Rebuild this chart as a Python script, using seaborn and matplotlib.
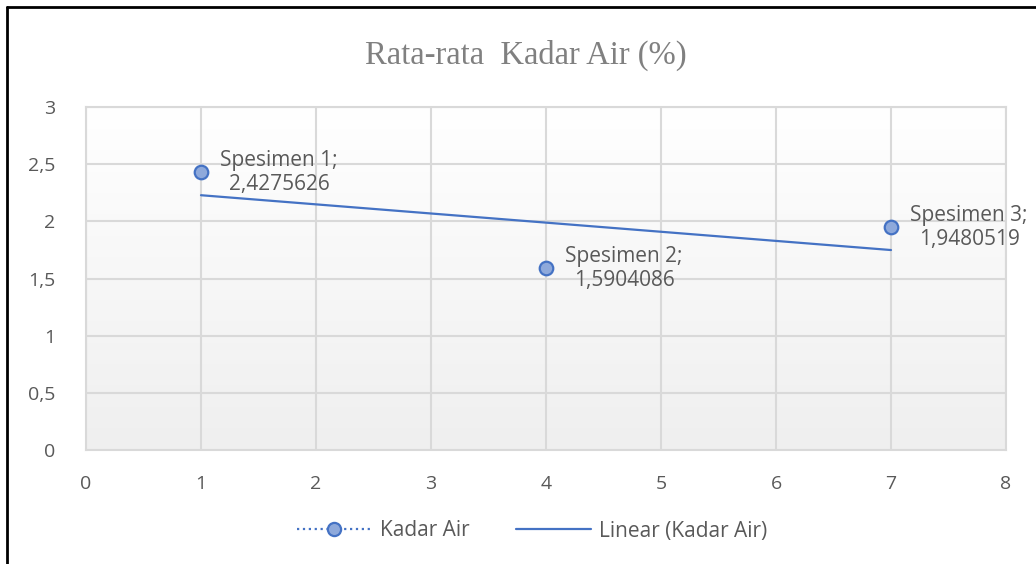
import numpy as np
import pandas as pd
import matplotlib
matplotlib.use("Agg")
import matplotlib.pyplot as plt
import seaborn as sns
from matplotlib.lines import Line2D

# ============================================================
# Data
# ============================================================

specimens = ["Spesimen 1", "Spesimen 2", "Spesimen 3"]
x_pos = [1, 4, 7]
kadar_air = [2.4275626, 1.5904086, 1.9480519]

y_ticks = [0, 0.5, 1, 1.5, 2, 2.5, 3]
y_tick_labels = ["0", "0,5", "1", "1,5", "2", "2,5", "3"]
x_ticks = [0, 1, 2, 3, 4, 5, 6, 7, 8]

df = pd.DataFrame({"x": x_pos, "kadar_air": kadar_air, "label": specimens})

# linear trendline, Excel style
slope, intercept = np.polyfit(df["x"], df["kadar_air"], 1)
trend = pd.DataFrame({"x": [df["x"].min(), df["x"].max()]})
trend["y"] = slope * trend["x"] + intercept

# ============================================================
# Style
# ============================================================

BLUE = "#4472C4"
FILL = "#8EA9DB"
TEXT = "#595959"
GRID = "#D9D9D9"

sns.set_theme(style="white")
plt.rcParams["font.family"] = ["Open Sans", "DejaVu Sans"]

fig = plt.figure(figsize=(10.36, 5.64), dpi=100)
W, H = 1036, 564
ax = fig.add_axes([86 / W, 1 - 450 / H, 920 / W, 343 / H])

# gradient plot area (white -> light gray)
grad = np.linspace(1.0, 0.0, 256).reshape(-1, 1)
ax.imshow(
    grad,
    extent=[0, 1, 0, 1],
    transform=ax.transAxes,
    aspect="auto",
    cmap=matplotlib.colors.LinearSegmentedColormap.from_list("g", ["#EFEFEF", "#FFFFFF"]),
    zorder=0,
)

sns.lineplot(
    data=trend,
    x="x",
    y="y",
    color=BLUE,
    linewidth=1.6,
    ax=ax,
    zorder=3,
)

sns.scatterplot(
    data=df,
    x="x",
    y="kadar_air",
    s=95,
    color=FILL,
    edgecolor=BLUE,
    linewidth=1.6,
    ax=ax,
    zorder=4,
)

for _, row in df.iterrows():
    ax.annotate(
        f"{row['label']};\n{row['kadar_air']:.7f}".replace(".", ","),
        xy=(row["x"], row["kadar_air"]),
        xytext=(14, 0),
        textcoords="offset points",
        ha="left",
        va="center",
        multialignment="center",
        fontsize=15,
        color=TEXT,
        linespacing=1.2,
        zorder=5,
    )

ax.set_xlim(0, 8)
ax.set_ylim(0, 3)
ax.set_xticks(x_ticks)
ax.set_yticks(y_ticks)
ax.set_yticklabels(y_tick_labels)
ax.set_xlabel("")
ax.set_ylabel("")
ax.tick_params(axis="both", length=0, labelsize=14, labelcolor=TEXT)
ax.tick_params(axis="x", pad=18)
ax.tick_params(axis="y", pad=22)
ax.grid(True, color=GRID, linewidth=1.5, zorder=1)
ax.set_axisbelow(True)
for sp in ax.spines.values():
    sp.set_color(GRID)
    sp.set_linewidth(1.5)

fig.text(
    526 / W,
    1 - 55 / H,
    "Rata-rata  Kadar Air (%)",
    ha="center",
    va="center",
    fontsize=23.5,
    color="#808080",
    family=["Liberation Serif", "DejaVu Serif"],
)

handles = [
    Line2D([0], [0], color=BLUE, linestyle=":", linewidth=1.6,
           marker="o", markersize=9.5, markerfacecolor=FILL,
           markeredgecolor=BLUE, markeredgewidth=1.6),
    Line2D([0], [0], color=BLUE, linewidth=1.6),
]
fig.legend(
    handles,
    ["Kadar Air", "Linear (Kadar Air)"],
    loc="center",
    bbox_to_anchor=(532 / W, 1 - 531 / H),
    ncol=2,
    frameon=False,
    fontsize=15,
    labelcolor=TEXT,
    handlelength=3.6,
    handletextpad=0.4,
    columnspacing=2.2,
)

# chart frame (cropped screenshot border)
fig.add_artist(Line2D([7 / W, 7 / W], [0, 1 - 7 / H], color="black", linewidth=2, transform=fig.transFigure))
fig.add_artist(Line2D([7 / W, 1], [1 - 7 / H, 1 - 7 / H], color="black", linewidth=2, transform=fig.transFigure))

fig.savefig("out.png", dpi=100)
